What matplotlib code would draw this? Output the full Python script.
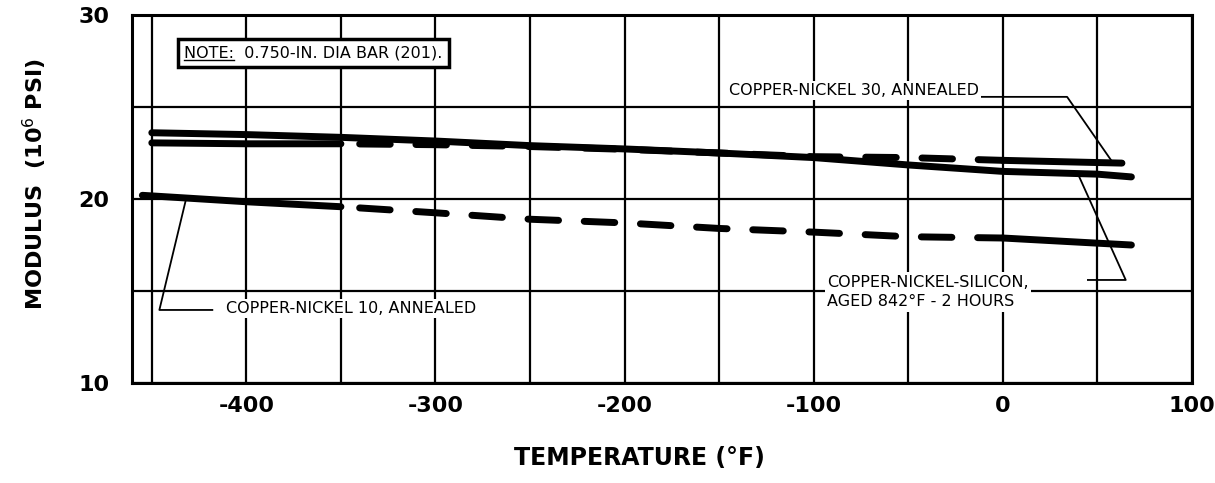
import numpy as np
import matplotlib
matplotlib.use('Agg')
import matplotlib.pyplot as plt

plt.rcParams['font.family'] = ['DejaVu Sans']
plt.rcParams['mathtext.fontset'] = 'dejavusans'

# Modulus vs temperature
temp_cuni30 = [-450, -400, -350, -300, -250, -200, -150, -100, -50, 0, 63]
mod_cuni30 = [23.05, 23.0, 23.0, 22.95, 22.85, 22.7, 22.5, 22.3, 22.25, 22.1, 21.95]

temp_cunisi = [-450, -400, -350, -300, -250, -200, -150, -100, -50, 0, 50, 68]
mod_cunisi = [23.6, 23.5, 23.35, 23.15, 22.9, 22.72, 22.5, 22.25, 21.85, 21.5, 21.35, 21.2]

temp_cuni10 = [-455, -400, -350, -300, -250, -200, -150, -100, -50, 0, 50, 68]
mod_cuni10 = [20.2, 19.85, 19.58, 19.25, 18.9, 18.7, 18.4, 18.2, 17.95, 17.88, 17.6, 17.5]

x_ticks = [-400, -300, -200, -100, 0, 100]
x_ticklabels = ['-400', '-300', '-200', '-100', '0', '100']
y_ticks = [10, 20, 30]

label_cuni30 = 'COPPER-NICKEL 30, ANNEALED'
label_cunisi = 'COPPER-NICKEL-SILICON,\nAGED 842°F - 2 HOURS'
label_cuni10 = 'COPPER-NICKEL 10, ANNEALED'
note_head = 'NOTE:'
note_text = 'NOTE:  0.750-IN. DIA BAR (201).'

# leader lines (label -> curve)
leader_cuni30 = ([-14, 34, 58], [25.55, 25.55, 22.0])
leader_cunisi = ([40, 65, 45], [21.3, 15.6, 15.6])
leader_cuni10 = ([-432, -446, -418], [19.95, 13.97, 13.97])

fig = plt.figure(figsize=(12.15, 4.83), dpi=100)
ax = fig.add_axes([0.1086, 0.207, 0.8724, 0.762])

lw = 5
dash = (4.4, 3.7)

def dashed_curve(xs, ys, solid_left, solid_right):
    xs = np.array(xs)
    ys = np.array(ys)
    left = xs <= solid_left
    mid = (xs >= solid_left) & (xs <= solid_right)
    right = xs >= solid_right
    ax.plot(xs[left], ys[left], color='black', lw=lw, solid_capstyle='round', zorder=3)
    ax.plot(xs[mid], ys[mid], color='black', lw=lw, dash_capstyle='round',
            linestyle=(dash[0] + 1.0, dash), zorder=3)
    ax.plot(xs[right], ys[right], color='black', lw=lw, solid_capstyle='round', zorder=3)

ax.plot(temp_cunisi, mod_cunisi, color='black', lw=lw, solid_capstyle='round', zorder=3)
dashed_curve(temp_cuni30, mod_cuni30, -350, 0)
dashed_curve(temp_cuni10, mod_cuni10, -350, 0)

for xs, ys in [leader_cuni30, leader_cunisi, leader_cuni10]:
    ax.plot(xs, ys, color='black', lw=1.3, zorder=4)

fs = 11.5
lab_font = dict(fontsize=fs, color='black', zorder=5)
wbox = dict(boxstyle='square,pad=0.15', fc='white', ec='none')
ax.text(-145, 25.9, label_cuni30, ha='left', va='center', bbox=wbox, **lab_font)
ax.text(-93, 14.95, label_cunisi, ha='left', va='center', linespacing=1.4, bbox=wbox, **lab_font)
ax.text(-411, 14.05, label_cuni10, ha='left', va='center', bbox=wbox, **lab_font)

note = ax.text(-433, 27.93, note_text, ha='left', va='center', fontsize=fs, zorder=5,
               bbox=dict(boxstyle='square,pad=0.4', fc='white', ec='black', lw=2.5))

ax.set_xlim(-460.5, 100)
ax.set_ylim(10, 30)
ax.set_xticks(x_ticks)
ax.set_xticklabels(x_ticklabels)
ax.set_xticks(np.arange(-450, 100, 50), minor=True)
ax.set_yticks(y_ticks)
ax.set_yticks([15, 25], minor=True)
ax.grid(which='both', color='black', lw=1.6)
ax.set_axisbelow(True)
ax.tick_params(which='both', length=0)
ax.tick_params(axis='x', labelsize=16, pad=9)
ax.tick_params(axis='y', labelsize=16, pad=16)
for t in ax.get_xticklabels() + ax.get_yticklabels():
    t.set_fontweight('bold')
for s in ax.spines.values():
    s.set_linewidth(2.2)

ax.set_xlabel('TEMPERATURE (°F)', fontsize=17, fontweight='bold')
ax.xaxis.set_label_coords(0.479, -0.17)
ax.set_ylabel('MODULUS  (10$^6$ PSI)', fontsize=16, fontweight='bold')
ax.yaxis.set_label_coords(-0.078, 0.54)

# underline "NOTE:"
fig.canvas.draw()
tmp = ax.text(-433, 27.93, note_head, ha='left', va='center', fontsize=fs)
bb = tmp.get_window_extent(renderer=fig.canvas.get_renderer())
tmp.remove()
inv = ax.transData.inverted()
(ux0, uy), (ux1, _) = inv.transform([(bb.x0, bb.y0 + 1), (bb.x1, bb.y0 + 1)])
ax.plot([ux0, ux1], [uy, uy], color='black', lw=1, zorder=6)

fig.savefig('out.png', dpi=100)
